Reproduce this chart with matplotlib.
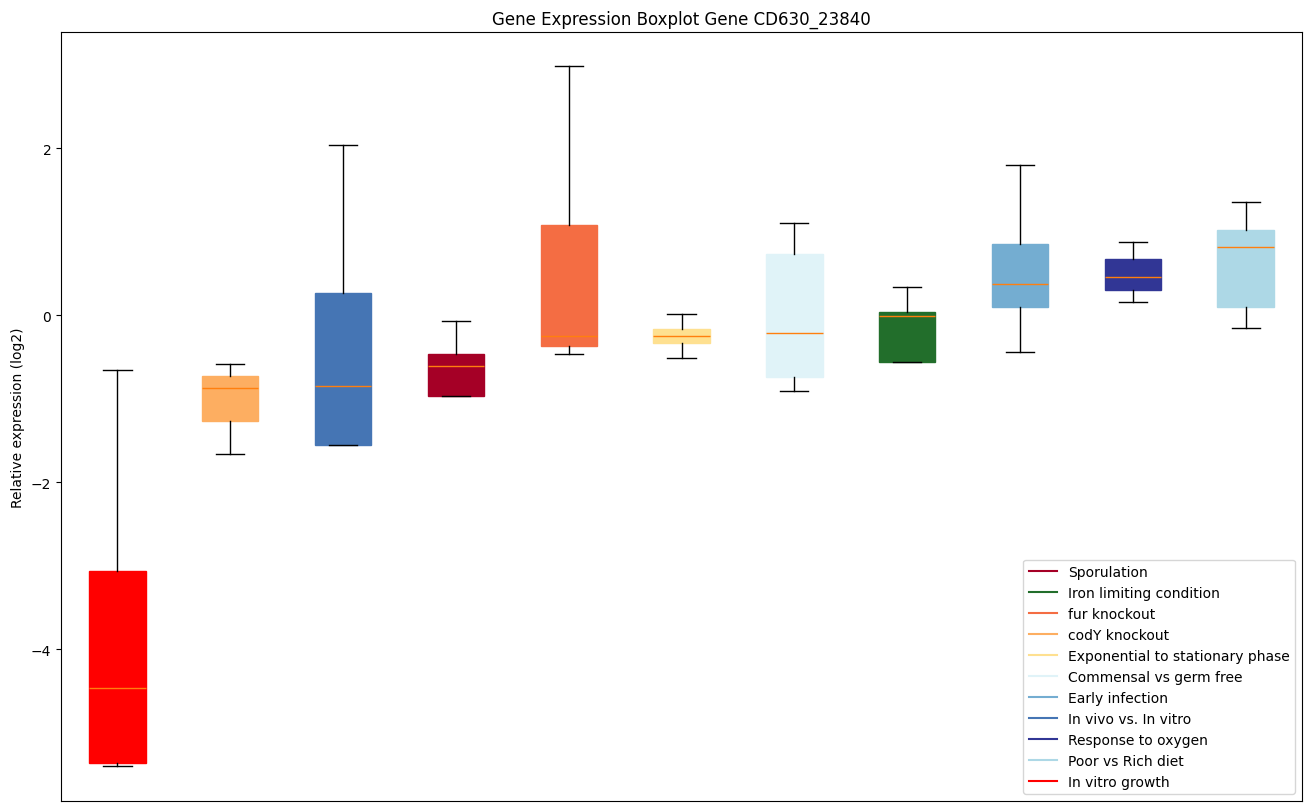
import matplotlib
matplotlib.use("Agg")
import matplotlib.pyplot as plt
from matplotlib.lines import Line2D

# Box order (left to right)
box_labels = ["In vitro growth", "codY knockout", "In vivo vs. In vitro", "Sporulation",
              "fur knockout", "Exponential to stationary phase", "Commensal vs germ free",
              "Iron limiting condition", "Early infection", "Response to oxygen",
              "Poor vs Rich diet"]
box_colors = ["#ff0000", "#fdae61", "#4575b4", "#a50026", "#f46d43", "#fee090",
              "#e0f3f8", "#226e2b", "#74add1", "#313695", "#add8e6"]
whislo = [-5.40, -1.66, -1.56, -0.97, -0.47, -0.51, -0.91, -0.56, -0.44, 0.16, -0.16]
q1     = [-5.37, -1.27, -1.56, -0.97, -0.37, -0.34, -0.74, -0.56, 0.10, 0.30, 0.10]
med    = [-4.47, -0.87, -0.85, -0.61, -0.25, -0.25, -0.22, -0.01, 0.37, 0.46, 0.81]
q3     = [-3.07, -0.73, 0.26, -0.47, 1.08, -0.17, 0.73, 0.04, 0.85, 0.67, 1.02]
whishi = [-0.66, -0.59, 2.04, -0.07, 2.98, 0.01, 1.10, 0.34, 1.80, 0.87, 1.35]

legend_order = ["Sporulation", "Iron limiting condition", "fur knockout", "codY knockout",
                "Exponential to stationary phase", "Commensal vs germ free", "Early infection",
                "In vivo vs. In vitro", "Response to oxygen", "Poor vs Rich diet",
                "In vitro growth"]

fig = plt.figure(figsize=(13.09, 8.12), dpi=100)
ax = fig.add_axes([0.0466, 0.0123, 0.9481, 0.9471])

stats = []
for i in range(len(box_labels)):
    stats.append(dict(whislo=whislo[i], q1=q1[i], med=med[i], q3=q3[i],
                      whishi=whishi[i], fliers=[], label=box_labels[i]))

bp = ax.bxp(stats, positions=range(1, len(stats) + 1), widths=0.5,
            patch_artist=True, showfliers=False)
for patch, c in zip(bp["boxes"], box_colors):
    patch.set_facecolor(c)
    patch.set_edgecolor(c)
for m in bp["medians"]:
    m.set_color("#ff7f0e")

ax.set_xlim(0.5, len(stats) + 0.5)
ax.set_ylim(-5.82, 3.39)
ax.set_xticks([])
ax.set_yticks([-4, -2, 0, 2])
ax.set_yticklabels(["\u22124", "\u22122", "0", "2"])
ax.set_ylabel("Relative expression (log2)")
ax.set_title("Gene Expression Boxplot Gene CD630_23840")

color_map = dict(zip(box_labels, box_colors))
handles = [Line2D([0], [0], color=color_map[l], lw=1.5) for l in legend_order]
ax.legend(handles, legend_order, loc="lower right")

fig.savefig("out.png", dpi=100)
